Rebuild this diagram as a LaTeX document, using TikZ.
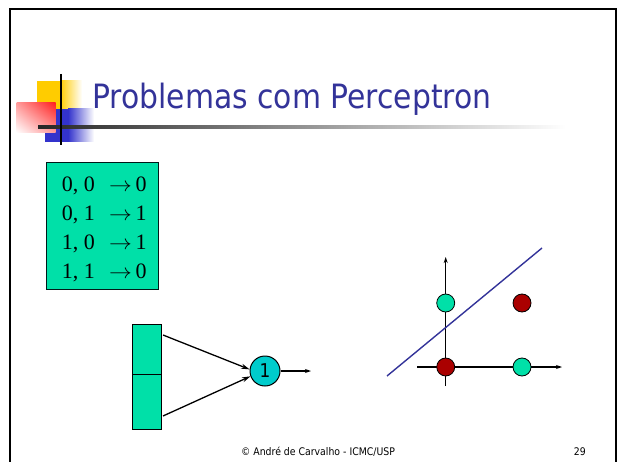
\documentclass[tikz,border=0pt]{standalone}
\usepackage{fontspec}
\usetikzlibrary{arrows.meta,shadings}
\newfontfamily\tahomalike[FakeStretch=0.89]{DejaVu Sans}
\newfontfamily\timeslike{Liberation Serif}
\definecolor{titleblue}{HTML}{333399}
\definecolor{tblgreen}{HTML}{00E0A8}
\definecolor{neucyan}{HTML}{00CCCC}
\definecolor{dotred}{HTML}{AA0000}
\definecolor{decoyellow}{HTML}{FFCC00}
\definecolor{decoblue}{HTML}{3333CC}
\definecolor{decored}{HTML}{FF2020}
\tikzset{
  frame/.style={line width=2.3pt, black},
  rowtxt/.style={anchor=base west, inner sep=0pt, font=\timeslike\fontsize{22}{26}\selectfont},
  inbox/.style={draw=black, line width=1.2pt, fill=tblgreen, inner sep=0pt, anchor=north west},
  neuron/.style={circle, draw=black, line width=1pt, fill=neucyan, minimum size=30pt, inner sep=0pt, font=\tahomalike\fontsize{19}{20}\selectfont},
  conn/.style={line width=1.3pt, -{Stealth[length=8.5pt,width=5pt]}},
  axis/.style={line width=1.3pt, -{Stealth[length=6pt,width=4pt]}},
  dot/.style={circle, draw=black, line width=0.8pt, minimum size=18pt, inner sep=0pt},
}
\begin{document}
\begin{tikzpicture}[x=1pt,y=-1pt]
\useasboundingbox (0,0) rectangle (620,462);
% slide frame
\draw[frame] (10.3,462) -- (10.3,8.8) -- (616.2,8.8) -- (616.2,462);
% title decoration
\fill[decoyellow] (37,81) rectangle (60,109);
\shade[left color=decoyellow, right color=white] (60,81) rectangle (82,109);
\fill[decoblue] (45,109) rectangle (68,142);
\shade[left color=decoblue, right color=white] (68,109) rectangle (94,142);
\shade[upper right=decored, upper left=decored!45, lower right=decored!45, lower left=white] (16.7,103) rectangle (55.7,133);
\shade[left color=black!85, right color=white] (38,125.6) rectangle (566,128.6);
\draw[line width=2pt, black] (60.7,74) -- (60.7,145);
% title
\node[anchor=base west, inner sep=0pt, text=titleblue, font=\tahomalike\fontsize{33.5}{36}\selectfont] (title) at (92,109) {Problemas com Perceptron};
% truth table
\node[draw=black!80!teal, line width=1.2pt, fill=tblgreen, anchor=north west, minimum width=112.3pt, minimum height=127.3pt, inner sep=0pt] (table) at (45.7,161.7) {};
\node[rowtxt] (r1) at (61.7,192) {\makebox[47.3pt][l]{0, 0}\scalebox{1.1}[1]{$\rightarrow$}\,0};
\node[rowtxt] (r2) at (61.7,220.5) {\makebox[47.3pt][l]{0, 1}\scalebox{1.1}[1]{$\rightarrow$}\,1};
\node[rowtxt] (r3) at (61.7,249) {\makebox[47.3pt][l]{1, 0}\scalebox{1.1}[1]{$\rightarrow$}\,1};
\node[rowtxt] (r4) at (61.7,278) {\makebox[47.3pt][l]{1, 1}\scalebox{1.1}[1]{$\rightarrow$}\,0};
% perceptron
\node[inbox, minimum width=29pt, minimum height=50pt] (in1) at (132,324) {};
\node[inbox, minimum width=29pt, minimum height=55pt] (in2) at (132,374) {};
\node[neuron] (neu) at (265,371) {1};
\coordinate (s1) at (163,335);
\coordinate (s2) at (163,416);
\coordinate (out) at (311,371);
\draw[conn] (s1) -- (neu.174);
\draw[conn] (s2) -- (neu.200);
\draw[line width=1.3pt, -{Stealth[length=6pt,width=4pt]}] (neu.east) -- (out);
% XOR plot
\coordinate (vb) at (445.7,386);
\coordinate (vt) at (445.7,257);
\coordinate (hl) at (417,367);
\coordinate (hr) at (562,367);
\coordinate (lb) at (387,376);
\coordinate (lt) at (542,248);
\draw[axis] (vb) -- (vt);
\draw[axis] (hl) -- (hr);
\node[dot, fill=tblgreen] (p01) at (445.7,303) {};
\node[dot, fill=dotred] (p11) at (522,303) {};
\node[dot, fill=dotred] (p00) at (445.7,367) {};
\node[dot, fill=tblgreen] (p10) at (522,367) {};
\draw[titleblue, line width=1.4pt] (lb) -- (lt);
% footer
\node[anchor=base, inner sep=0pt, font=\tahomalike\fontsize{10.5}{12}\selectfont] (foot) at (318,455) {© André de Carvalho - ICMC/USP};
\node[anchor=base east, inner sep=0pt, font=\tahomalike\fontsize{10.5}{12}\selectfont] (pg) at (586,455) {29};
\end{tikzpicture}
\end{document}
